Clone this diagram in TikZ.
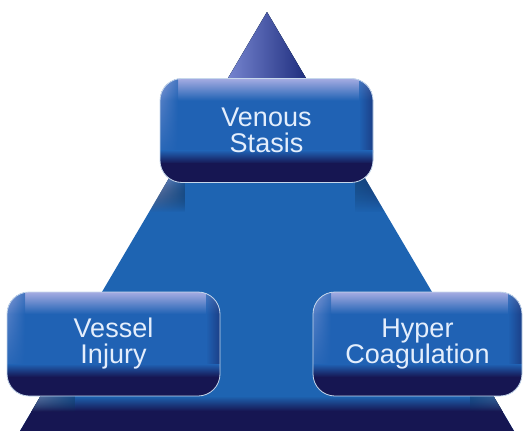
\documentclass[tikz,border=0pt]{standalone}
\usepackage{fontspec}
\setmainfont{Liberation Sans}
\usetikzlibrary{fadings}
\definecolor{triblue}{RGB}{30,100,178}
\definecolor{boxblue}{RGB}{32,98,180}
\definecolor{navy}{RGB}{22,22,82}
\definecolor{lav}{RGB}{165,172,226}
\definecolor{conelight}{RGB}{120,135,210}
\definecolor{conemid}{RGB}{60,95,190}
\definecolor{conedark}{RGB}{25,40,120}
\definecolor{txt}{RGB}{228,238,252}

\tikzfading[name=fadedown, top color=transparent!0, bottom color=transparent!100]

\tikzset{
  pill/.style={
    rounded corners=22pt, minimum width=213pt, minimum height=104pt,
    fill=boxblue, text=txt, align=center,
    font=\fontsize{27}{26}\selectfont,
    draw=white!75!boxblue, line width=0.8pt,
    path picture={
      \begin{scope}[sharp corners]
      % soft highlight along the top
      \fill[top color=lav, bottom color=boxblue]
        (path picture bounding box.north west) rectangle
        ([yshift=-22pt]path picture bounding box.north east);
      % lighter left rim
      \fill[left color=lav, right color=boxblue, fill opacity=0.5, path fading=fadedown]
        (path picture bounding box.north west) rectangle
        ([xshift=18pt,yshift=20pt]path picture bounding box.south west);
      % darker right rim
      \fill[left color=boxblue, right color=navy, fill opacity=0.45]
        ([xshift=-14pt]path picture bounding box.north east) rectangle
        ([yshift=30pt]path picture bounding box.south east);
      % dark underside
      \fill[top color=boxblue, bottom color=navy]
        ([yshift=32pt]path picture bounding box.south west) rectangle
        ([yshift=19pt]path picture bounding box.south east);
      \fill[navy]
        ([yshift=19.5pt]path picture bounding box.south west) rectangle
        (path picture bounding box.south east);
      \end{scope}
    }
  }
}

\begin{document}
\begin{tikzpicture}[x=1pt,y=-1pt]
\useasboundingbox (0,0) rectangle (528,431);
\fill[white] (0,0) rectangle (528,431);

\coordinate (apex) at (267,12);
\coordinate (bl) at (20,431);
\coordinate (br) at (514,431);

% the pyramid
\begin{scope}
  \clip (apex) -- (bl) -- (br) -- cycle;
  \fill[triblue] (0,0) rectangle (528,431);
  % cone tip
  \fill[left color=conelight, middle color=conemid, right color=conedark]
    (225,0) rectangle (312,90);
  % glints along the edges below the top block
  \fill[left color=lav, right color=triblue, fill opacity=0.9, path fading=fadedown]
    (150,178) rectangle (185,212);
  \fill[left color=triblue, right color=conedark, fill opacity=0.4, path fading=fadedown]
    (355,178) rectangle (385,212);
  % lower step
  \fill[top color=triblue, bottom color=navy] (0,396) rectangle (528,411);
  \fill[navy] (0,410.5) rectangle (528,431);
  \fill[left color=lav, right color=triblue, fill opacity=0.8, path fading=fadedown]
    (25,392) rectangle (75,412);
  \fill[left color=triblue, right color=lav, fill opacity=0.45, path fading=fadedown]
    (470,392) rectangle (514,412);
\end{scope}

% the three blocks
\node[pill] (stasis) at (266.5,130.5) {Venous\\Stasis};
\node[pill] (injury) at (113.5,344) {Vessel\\Injury};
\node[pill, minimum width=209pt] (coag) at (417.5,344) {Hyper\\Coagulation};
\end{tikzpicture}
\end{document}
